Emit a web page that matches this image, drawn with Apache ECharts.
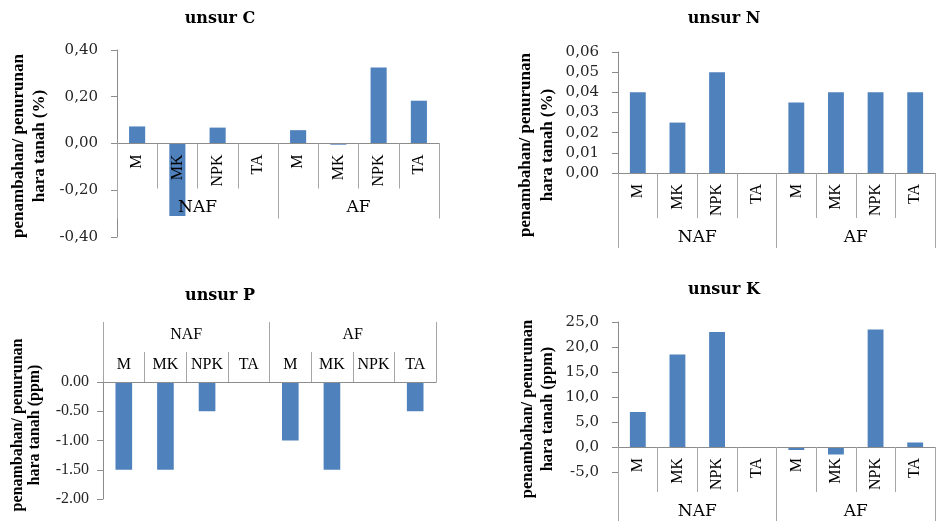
<!DOCTYPE html>
<html>
<head>
<meta charset="utf-8">
<script src="https://cdn.jsdelivr.net/npm/echarts@6/dist/echarts.min.js"></script>
<style>
html,body{margin:0;padding:0;background:#fff;}
#chart{width:937px;height:521px;}
</style>
</head>
<body>
<div id="chart"></div>
<script>
// ---- data ----
const categories = ['M', 'MK', 'NPK', 'TA', 'M', 'MK', 'NPK', 'TA'];
const groups = ['NAF', 'AF'];
const valuesC = [0.073, -0.31, 0.068, 0, 0.057, -0.005, 0.325, 0.183];
const valuesN = [0.04, 0.025, 0.05, 0, 0.035, 0.04, 0.04, 0.04];
const valuesP = [-1.5, -1.5, -0.5, 0, -1.0, -1.5, 0, -0.5];
const valuesK = [7.0, 18.5, 23.0, 0, -0.6, -1.5, 23.5, 0.9];
const titles = ['unsur C', 'unsur N', 'unsur P', 'unsur K'];
const yTitles = [
  'penambahan/ penurunan\nhara tanah (%)',
  'penambahan/ penurunan\nhara tanah (%)',
  'penambahan/ penurunan\nhara tanah (ppm)',
  'penambahan/ penurunan\nhara tanah (ppm)'
];
const yRanges = [
  {min: -0.4, max: 0.4, interval: 0.2},
  {min: 0, max: 0.06, interval: 0.01},
  {min: -2, max: 0, interval: 0.5},
  {min: -5, max: 25, interval: 5}
];

const BAR = '#4F81BD';
const AXIS = '#8c8c8c';
const SEP = '#a6a6a6';

// plot boxes (pixels): left, right edge x, top y, bottom y
const boxes = [
  {l: 117, r: 439, t: 50, b: 237},
  {l: 618, r: 935, t: 52, b: 173},
  {l: 103, r: 436, t: 382, b: 499},
  {l: 618, r: 935, t: 322, b: 472}
];

const fmt = [
  v => v.toFixed(2).replace('.', ','),
  v => v.toFixed(2).replace('.', ','),
  v => v.toFixed(2),
  v => v.toFixed(1).replace('.', ',')
];
const labelFonts = ['DejaVu Serif', 'DejaVu Serif', 'Liberation Serif', 'DejaVu Serif'];
const labelSizes = [15, 15, 16, 15];
const labelMargins = [19, 19, 14, 19];

const grids = [];
const xAxes = [];
const yAxes = [];
const series = [];
const allValues = [valuesC, valuesN, valuesP, valuesK];

for (let i = 0; i < 4; i++) {
  const bx = boxes[i];
  const rg = yRanges[i];
  const isTop = (i === 2);
  const zeroY = bx.t + (bx.b - bx.t) * (rg.max - 0) / (rg.max - rg.min);
  grids.push({left: bx.l, width: bx.r - bx.l, top: bx.t, height: bx.b - bx.t,
              containLabel: false, outerBoundsMode: 'none'});
  if (isTop) {
    grids.push({left: bx.l, width: bx.r - bx.l, top: zeroY, height: bx.b - zeroY,
                containLabel: false, outerBoundsMode: 'none'});
  } else {
    grids.push({left: bx.l, width: bx.r - bx.l, top: bx.t, height: zeroY - bx.t,
                containLabel: false, outerBoundsMode: 'none'});
  }
  const gBar = 2 * i, gLab = 2 * i + 1;

  xAxes.push({type: 'category', gridIndex: gBar, data: categories, show: false});
  xAxes.push({
    type: 'category', gridIndex: gLab, data: categories,
    position: isTop ? 'top' : 'bottom',
    z: 5,
    axisLine: {show: true, onZero: false, lineStyle: {color: AXIS, width: 1}},
    axisTick: {show: true, interval: 0, length: isTop ? 30 : 45, lineStyle: {color: SEP}},
    axisLabel: isTop ? {
      interval: 0, margin: 9, fontFamily: 'Liberation Serif', fontSize: 16, color: '#000'
    } : {
      interval: 0, rotate: 90, margin: 11, fontFamily: 'Liberation Serif', fontSize: 16, color: '#000'
    },
    splitLine: {show: false}
  });
  xAxes.push({
    type: 'category', gridIndex: gLab, data: groups,
    position: isTop ? 'top' : 'bottom',
    z: 5,
    axisLine: {show: true, onZero: false, lineStyle: {color: AXIS, width: 1}},
    axisTick: {show: true, interval: 0, length: isTop ? 60 : 75, lineStyle: {color: SEP}},
    axisLabel: isTop ? {
      interval: 0, margin: 39, fontFamily: 'Liberation Serif', fontSize: 16, color: '#000'
    } : {
      interval: 0, margin: 56, fontFamily: 'DejaVu Serif', fontSize: 17, color: '#000'
    },
    splitLine: {show: false}
  });
  yAxes.push({
    type: 'value', gridIndex: gBar,
    min: rg.min, max: rg.max, interval: rg.interval,
    axisLine: {show: true, lineStyle: {color: AXIS, width: 1}},
    axisTick: {show: true, length: 6, lineStyle: {color: AXIS}},
    splitLine: {show: false},
    axisLabel: {
      formatter: fmt[i], fontFamily: labelFonts[i], fontSize: labelSizes[i],
      color: '#262626', margin: labelMargins[i]
    }
  });
  yAxes.push({type: 'value', gridIndex: gLab, min: 0, max: 1, show: false, splitLine: {show: false}});

  series.push({
    type: 'bar', name: titles[i],
    xAxisIndex: 3 * i, yAxisIndex: 2 * i,
    data: allValues[i],
    barWidth: '40%',
    itemStyle: {color: BAR},
    z: 2
  });
}

const titleCenters = [[220, 11], [724, 11], [220, 288], [724, 282]];
const title = titles.map((t, i) => ({
  text: t, left: titleCenters[i][0], top: titleCenters[i][1], textAlign: 'center', padding: 0,
  textStyle: {fontFamily: 'DejaVu Serif', fontWeight: 'bold', fontSize: 16, color: '#000'}
}));

const yTitlePos = [
  {x: 29.5, y: 146, lh: 21, fs: 17},
  {x: 536.5, y: 145, lh: 22, fs: 17},
  {x: 26.5, y: 425, lh: 17, fs: 16},
  {x: 537.5, y: 409, lh: 20, fs: 16.5}
];
const graphic = yTitles.map((t, i) => ({
  type: 'text',
  x: yTitlePos[i].x, y: yTitlePos[i].y,
  rotation: Math.PI / 2,
  style: {
    text: t,
    font: 'bold ' + yTitlePos[i].fs + 'px "Liberation Serif"',
    textAlign: 'center', textVerticalAlign: 'middle',
    lineHeight: yTitlePos[i].lh, fill: '#000'
  }
}));

const chart = echarts.init(document.getElementById('chart'), null, {renderer: 'canvas'});
chart.setOption({
  animation: false,
  backgroundColor: '#fff',
  title: title,
  grid: grids,
  xAxis: xAxes,
  yAxis: yAxes,
  series: series,
  graphic: graphic
});
</script>
</body>
</html>
